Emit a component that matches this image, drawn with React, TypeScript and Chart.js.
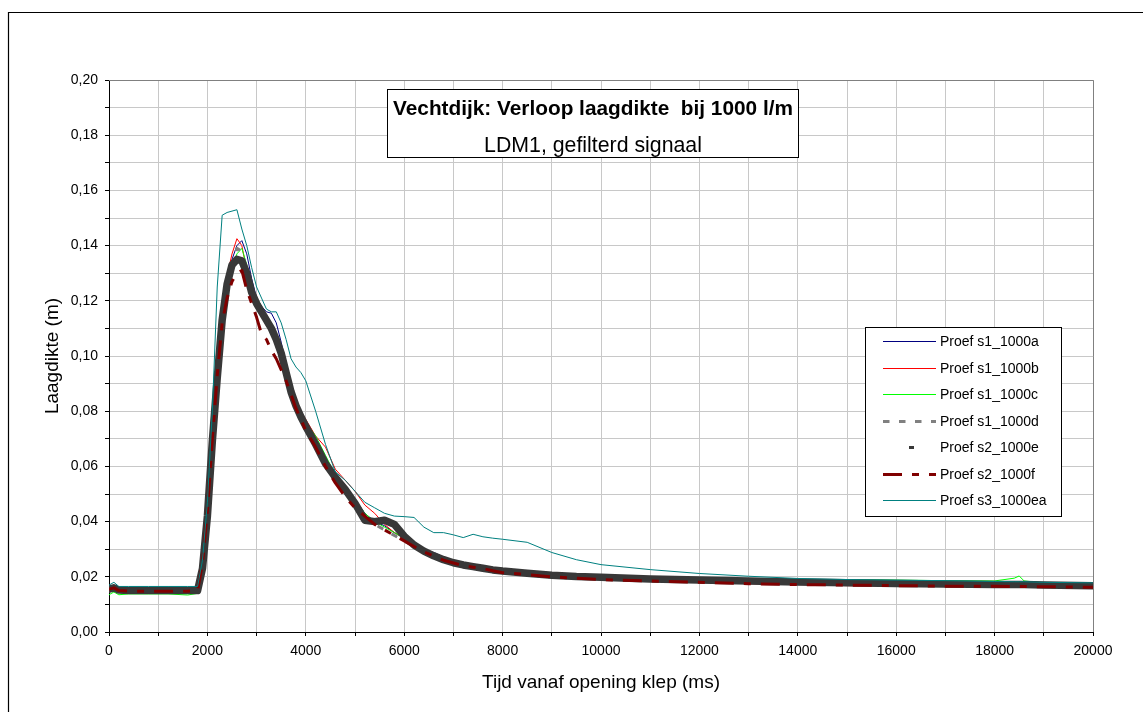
import React, { useEffect, useRef } from 'react';
import { Chart, registerables } from 'chart.js';

Chart.register(...registerables);

// ---------- DATA ----------
const TIME_MS = [
  0, 100, 200, 400, 800, 1200, 1600, 1800, 1900, 2000,
  2100, 2200, 2300, 2400, 2500, 2600, 2700, 2800, 2900, 3000,
  3100, 3200, 3300, 3400, 3500, 3600, 3700, 3800, 3900, 4000,
  4200, 4400, 4600, 4800, 5000, 5200, 5400, 5600, 5800, 6000,
  6200, 6400, 6600, 6800, 7000, 7200, 7400, 7600, 7800, 8000,
  8500, 9000, 9500, 10000, 11000, 12000, 13000, 14000, 15000, 16000,
  17000, 18000, 18400, 18500, 18600, 19000, 20000,
];

const S1_1000A = [
  0.015, 0.0155, 0.015, 0.015, 0.015, 0.015, 0.015, 0.0152, 0.022, 0.042,
  0.069, 0.093, 0.115, 0.128, 0.135, 0.140, 0.1418, 0.137, 0.128, 0.121,
  0.118, 0.116, 0.1155, 0.112, 0.105, 0.097, 0.090, 0.084, 0.079, 0.076,
  0.070, 0.063, 0.057, 0.053, 0.048, 0.043, 0.040, 0.0385, 0.036, 0.034,
  0.032, 0.030, 0.0288, 0.0272, 0.026, 0.025, 0.024, 0.0235, 0.023, 0.0225,
  0.0215, 0.0208, 0.0201, 0.0196, 0.0190, 0.0187, 0.0184, 0.0182, 0.018, 0.0178,
  0.0177, 0.0176, 0.0176, 0.0176, 0.0176, 0.0175, 0.0176,
];

const S1_1000B = [
  0.0145, 0.015, 0.0145, 0.0143, 0.0143, 0.0143, 0.0143, 0.0146, 0.024, 0.044,
  0.070, 0.094, 0.116, 0.129, 0.137, 0.1425, 0.140, 0.131, 0.124, 0.119,
  0.116, 0.112, 0.109, 0.106, 0.101, 0.095, 0.089, 0.084, 0.080, 0.077,
  0.071, 0.067, 0.059, 0.055, 0.051, 0.046, 0.043, 0.039, 0.036, 0.034,
  0.031, 0.0285, 0.027, 0.0258, 0.025, 0.024, 0.0235, 0.0228, 0.022, 0.0215,
  0.0206, 0.0198, 0.0193, 0.019, 0.0185, 0.0181, 0.0175, 0.0172, 0.0168, 0.0166,
  0.0165, 0.0164, 0.0164, 0.0164, 0.0164, 0.0163, 0.0162,
];

const S1_1000C = [
  0.0135, 0.0145, 0.0135, 0.0138, 0.0138, 0.0138, 0.0134, 0.014, 0.024, 0.043,
  0.069, 0.092, 0.113, 0.125, 0.132, 0.137, 0.139, 0.133, 0.125, 0.121,
  0.118, 0.114, 0.110, 0.106, 0.100, 0.094, 0.088, 0.083, 0.079, 0.076,
  0.071, 0.064, 0.057, 0.053, 0.048, 0.043, 0.040, 0.038, 0.036, 0.034,
  0.0315, 0.0295, 0.028, 0.0268, 0.0255, 0.0245, 0.024, 0.0232, 0.0225, 0.022,
  0.021, 0.0205, 0.0198, 0.0195, 0.0192, 0.0191, 0.0191, 0.019, 0.019, 0.0188,
  0.0186, 0.0185, 0.0195, 0.0203, 0.0185, 0.0178, 0.0175,
];

const S1_1000D = [
  0.0155, 0.016, 0.015, 0.015, 0.015, 0.015, 0.015, 0.015, 0.023, 0.042,
  0.069, 0.092, 0.113, 0.126, 0.133, 0.139, 0.138, 0.131, 0.124, 0.119,
  0.115, 0.112, 0.109, 0.105, 0.099, 0.093, 0.087, 0.082, 0.078, 0.074,
  0.067, 0.060, 0.055, 0.051, 0.046, 0.042, 0.039, 0.037, 0.035, 0.033,
  0.031, 0.029, 0.0275, 0.0262, 0.025, 0.0243, 0.0236, 0.023, 0.0226, 0.0222,
  0.0215, 0.0208, 0.0202, 0.0197, 0.0191, 0.0187, 0.0183, 0.018, 0.0177, 0.0175,
  0.0174, 0.0173, 0.0173, 0.0173, 0.0173, 0.0172, 0.0171,
];

const S2_1000E = [
  0.0155, 0.016, 0.0152, 0.015, 0.015, 0.015, 0.015, 0.015, 0.023, 0.042,
  0.069, 0.092, 0.113, 0.126, 0.133, 0.135, 0.1345, 0.130, 0.123, 0.119,
  0.116, 0.113, 0.110, 0.106, 0.101, 0.094, 0.087, 0.082, 0.078, 0.0745,
  0.068, 0.061, 0.056, 0.0517, 0.0466, 0.0405, 0.040, 0.0405, 0.039, 0.0347,
  0.0315, 0.0293, 0.0276, 0.0262, 0.0251, 0.0243, 0.0237, 0.0231, 0.0225, 0.0221,
  0.0213, 0.0206, 0.0201, 0.0198, 0.0192, 0.0188, 0.0185, 0.0181, 0.0178, 0.0176,
  0.0174, 0.0172, 0.0172, 0.0172, 0.0172, 0.017, 0.0168,
];

const S2_1000F = [
  0.0155, 0.016, 0.015, 0.0148, 0.0148, 0.0148, 0.0148, 0.015, 0.025, 0.044,
  0.070, 0.093, 0.112, 0.121, 0.127, 0.130, 0.131, 0.124, 0.119, 0.114,
  0.108, 0.106, 0.102, 0.099, 0.095, 0.091, 0.086, 0.081, 0.077, 0.073,
  0.067, 0.060, 0.054, 0.049, 0.045, 0.042, 0.039, 0.037, 0.035, 0.033,
  0.031, 0.029, 0.0275, 0.026, 0.025, 0.024, 0.0235, 0.023, 0.0222, 0.0215,
  0.0208, 0.020, 0.0195, 0.019, 0.0185, 0.018, 0.0175, 0.0172, 0.017, 0.0168,
  0.0166, 0.0166, 0.0165, 0.0165, 0.0165, 0.0164, 0.0162,
];

const S3_1000EA = [
  0.017, 0.018, 0.0165, 0.0165, 0.0165, 0.0165, 0.0165, 0.0165, 0.026, 0.047,
  0.080, 0.125, 0.151, 0.152, 0.1525, 0.153, 0.146, 0.140, 0.132, 0.125,
  0.121, 0.117, 0.116, 0.116, 0.112, 0.106, 0.099, 0.096, 0.094, 0.091,
  0.080, 0.068, 0.058, 0.055, 0.051, 0.047, 0.045, 0.043, 0.042, 0.0418,
  0.0415, 0.038, 0.036, 0.036, 0.0352, 0.0342, 0.0354, 0.0345, 0.034, 0.0336,
  0.0325, 0.0288, 0.0262, 0.0244, 0.0226, 0.0212, 0.0202, 0.0194, 0.019, 0.0188,
  0.0186, 0.0183, 0.0182, 0.0182, 0.0182, 0.018, 0.0178,
];

const SERIES_LABELS = [
  'Proef s1_1000a',
  'Proef s1_1000b',
  'Proef s1_1000c',
  'Proef s1_1000d',
  'Proef s2_1000e',
  'Proef s2_1000f',
  'Proef s3_1000ea',
];

const TITLE_LINE_1 = 'Vechtdijk: Verloop laagdikte  bij 1000 l/m';
const TITLE_LINE_2 = 'LDM1, gefilterd signaal';
const X_TITLE = 'Tijd vanaf opening klep (ms)';
const Y_TITLE = 'Laagdikte (m)';

const X_MIN = 0;
const X_MAX = 20000;
const X_STEP = 1000;
const Y_MIN = 0;
const Y_MAX = 0.2;
const Y_STEP = 0.01;

// ---------- STYLES ----------
const FONT = "'Liberation Sans', Arial, Helvetica, sans-serif";

type Style = {
  color: string;
  width: number;
  dash: number[];
  legend: 'line' | 'marker';
  order: number;
};

const STYLES: Style[] = [
  { color: '#000080', width: 1, dash: [], legend: 'line', order: 7 },
  { color: '#ff0000', width: 1, dash: [], legend: 'line', order: 6 },
  { color: '#00ff00', width: 1, dash: [], legend: 'line', order: 5 },
  { color: '#808080', width: 3, dash: [6.5, 9.5], legend: 'line', order: 4 },
  { color: '#383838', width: 7.5, dash: [], legend: 'marker', order: 3 },
  { color: '#800000', width: 3, dash: [19, 10, 7, 10], legend: 'line', order: 2 },
  { color: '#008080', width: 1, dash: [], legend: 'line', order: 1 },
];

const SERIES = [S1_1000A, S1_1000B, S1_1000C, S1_1000D, S2_1000E, S2_1000F, S3_1000EA];

const decorPlugin = {
  id: 'decor',
  beforeDraw(chart: any) {
    const ctx = chart.ctx as CanvasRenderingContext2D;
    ctx.save();
    ctx.fillStyle = '#ffffff';
    ctx.fillRect(0, 0, chart.width, chart.height);
    ctx.strokeStyle = '#000000';
    ctx.lineWidth = 1.2;
    ctx.beginPath();
    ctx.moveTo(8.5, chart.height);
    ctx.lineTo(8.5, 12.5);
    ctx.lineTo(chart.width, 12.5);
    ctx.stroke();
    ctx.restore();
  },
  beforeDatasetsDraw(chart: any) {
    const ctx = chart.ctx as CanvasRenderingContext2D;
    const { left, top, right, bottom } = chart.chartArea;
    ctx.save();
    ctx.strokeStyle = '#808080';
    ctx.lineWidth = 1;
    ctx.beginPath();
    ctx.moveTo(left, top + 0.5);
    ctx.lineTo(right + 0.5, top + 0.5);
    ctx.lineTo(right + 0.5, bottom);
    ctx.stroke();
    ctx.restore();
  },
  afterDraw(chart: any) {
    const ctx = chart.ctx as CanvasRenderingContext2D;
    ctx.save();

    // Title box
    const tb = { x: 387.5, y: 89.5, w: 411, h: 68 };
    ctx.fillStyle = '#ffffff';
    ctx.fillRect(tb.x, tb.y, tb.w, tb.h);
    ctx.strokeStyle = '#000000';
    ctx.lineWidth = 1;
    ctx.strokeRect(tb.x, tb.y, tb.w, tb.h);
    ctx.fillStyle = '#000000';
    ctx.textAlign = 'center';
    ctx.textBaseline = 'alphabetic';
    ctx.font = `bold 20.8px ${FONT}`;
    ctx.fillText(TITLE_LINE_1, tb.x + tb.w / 2, 115);
    ctx.font = `21.3px ${FONT}`;
    ctx.fillText(TITLE_LINE_2, tb.x + tb.w / 2, 151.5);

    // Legend box
    const lb = { x: 865.5, y: 327.5, w: 196, h: 189 };
    ctx.fillStyle = '#ffffff';
    ctx.fillRect(lb.x, lb.y, lb.w, lb.h);
    ctx.strokeStyle = '#000000';
    ctx.lineWidth = 1;
    ctx.strokeRect(lb.x, lb.y, lb.w, lb.h);

    ctx.font = `14px ${FONT}`;
    ctx.textAlign = 'left';
    ctx.textBaseline = 'alphabetic';
    SERIES_LABELS.forEach((label, i) => {
      const st = STYLES[i];
      const cy = 341.3 + i * 26.5;
      if (st.legend === 'line') {
        ctx.save();
        ctx.strokeStyle = st.color;
        ctx.lineWidth = Math.min(st.width, 3);
        ctx.setLineDash(st.dash);
        ctx.lineCap = 'butt';
        ctx.beginPath();
        const yy = st.width % 2 === 1 ? Math.round(cy) + 0.5 : Math.round(cy);
        ctx.moveTo(883, yy);
        ctx.lineTo(936, yy);
        ctx.stroke();
        ctx.restore();
      } else {
        ctx.fillStyle = st.color;
        ctx.fillRect(909, Math.round(cy) - 1, 5, 3);
      }
      ctx.fillStyle = '#000000';
      ctx.fillText(label, 940, cy + 5);
    });

    ctx.restore();
  },
};

export default function App() {
  const canvasRef = useRef<HTMLCanvasElement | null>(null);

  useEffect(() => {
    const canvas = canvasRef.current;
    if (!canvas) return;

    const datasets = SERIES.map((values, i) => {
      const st = STYLES[i];
      return {
        label: SERIES_LABELS[i],
        data: TIME_MS.map((t, k) => ({ x: t, y: values[k] })),
        borderColor: st.color,
        backgroundColor: st.color,
        borderWidth: st.width,
        borderDash: st.dash,
        borderJoinStyle: 'round' as const,
        borderCapStyle: (st.dash.length ? 'butt' : 'round') as any,
        pointRadius: 0,
        pointHoverRadius: 0,
        tension: 0,
        fill: false,
        order: st.order,
      };
    });

    const chart = new Chart(canvas, {
      type: 'line',
      data: { datasets },
      options: {
        responsive: false,
        animation: false,
        events: [],
        layout: { padding: { left: 0, top: 80, right: 50, bottom: 0 } },
        plugins: {
          legend: { display: false },
          title: { display: false },
          tooltip: { enabled: false },
        },
        scales: {
          x: {
            type: 'linear',
            min: X_MIN,
            max: X_MAX,
            afterFit: (scale: any) => {
              scale.height = 80;
            },
            ticks: {
              stepSize: X_STEP,
              autoSkip: false,
              maxRotation: 0,
              minRotation: 0,
              padding: 7,
              color: '#000000',
              font: { family: FONT, size: 14 },
              callback: (value: any) => (Number(value) % 2000 === 0 ? String(value) : ''),
            },
            grid: {
              color: '#c8c8c8',
              lineWidth: 1,
              tickLength: 4,
              tickColor: '#000000',
              drawTicks: true,
            },
            border: { color: '#000000', width: 1 },
            title: {
              display: true,
              text: X_TITLE,
              color: '#000000',
              font: { family: FONT, size: 19 },
              padding: { top: 0, bottom: 17.6 },
            },
          },
          y: {
            type: 'linear',
            min: Y_MIN,
            max: Y_MAX,
            afterFit: (scale: any) => {
              scale.width = 109;
            },
            ticks: {
              stepSize: Y_STEP,
              autoSkip: false,
              padding: 7,
              color: '#000000',
              font: { family: FONT, size: 14 },
              callback: (value: any) => {
                const n = Math.round(Number(value) * 100);
                return n % 2 === 0 ? (n / 100).toFixed(2).replace('.', ',') : '';
              },
            },
            grid: {
              color: '#c8c8c8',
              lineWidth: 1,
              tickLength: 4,
              tickColor: '#000000',
              drawTicks: true,
            },
            border: { color: '#000000', width: 1 },
            title: {
              display: true,
              text: Y_TITLE,
              color: '#000000',
              font: { family: FONT, size: 19 },
              padding: { top: 41.6, bottom: 0 },
            },
          },
        },
      },
      plugins: [decorPlugin],
    });

    return () => {
      chart.destroy();
    };
  }, []);

  return (
    <div style={{ position: 'fixed', left: 0, top: 0, width: 1143, height: 712, background: '#fff' }}>
      <canvas ref={canvasRef} width={1143} height={712} style={{ display: 'block', width: 1143, height: 712 }} />
    </div>
  );
}
